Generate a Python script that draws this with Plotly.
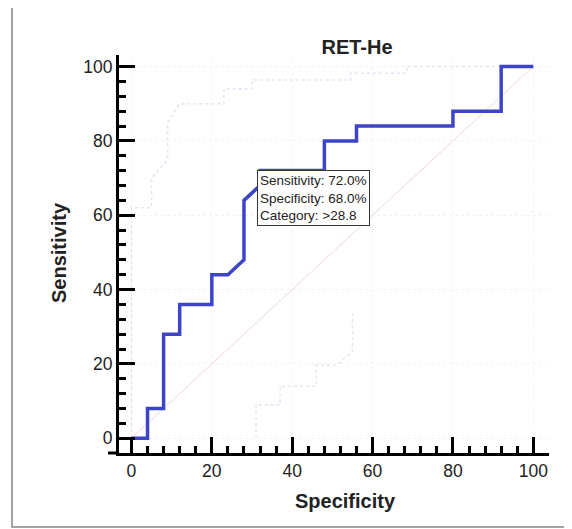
import plotly.graph_objects as go

# ROC curve (x as drawn on the Specificity axis, y = sensitivity)
roc_x = [0, 4, 4, 8, 8, 12, 12, 20, 20, 24, 28, 28, 32, 32, 48, 48, 56, 56, 80, 80, 92, 92, 100]
roc_y = [0, 0, 8, 8, 28, 28, 36, 36, 44, 44, 48, 64, 68, 72, 72, 80, 80, 84, 84, 88, 88, 100, 100]

# faint confidence bounds
upper_x = [0, 0, 5, 5, 9, 9, 12, 23, 23, 30, 30, 54.5, 54.5, 68.5, 68.5, 100]
upper_y = [0, 62, 62, 70, 75, 85, 90, 90, 94, 94, 96.4, 96.4, 98.2, 98.2, 100, 100]
lower_x = [31, 31, 37, 37, 46, 46, 51, 55, 55]
lower_y = [0, 9, 9, 14, 14, 19.7, 19.7, 23.3, 34]

diag_x = [0, 100]
diag_y = [0, 100]

tick_vals = [0, 20, 40, 60, 80, 100]
tick_text = ["0", "20", "40", "60", "80", "100"]

title_text = "RET-He"
x_title = "Specificity"
y_title = "Sensitivity"
note_lines = ["Sensitivity: 72.0%", "Specificity: 68.0%", "Category: >28.8"]
note_point = (31.3, 72.2)

FONT = "Liberation Sans, Arial, Helvetica, sans-serif"
OFF = 8  # page body margin
W, H = 572 - OFF, 529 - OFF

fig = go.Figure()
fig.add_trace(go.Scatter(x=diag_x, y=diag_y, mode="lines",
                         line=dict(color="#f4e6e6", width=1.2), hoverinfo="skip"))
fig.add_trace(go.Scatter(x=upper_x, y=upper_y, mode="lines",
                         line=dict(color="#e2e6f4", width=1.5, dash="dot"), hoverinfo="skip"))
fig.add_trace(go.Scatter(x=lower_x, y=lower_y, mode="lines",
                         line=dict(color="#e2e6f4", width=1.5, dash="dot"), hoverinfo="skip"))
fig.add_trace(go.Scatter(x=roc_x, y=roc_y, mode="lines",
                         line=dict(color="#3c44c8", width=3.5)))

axis_common = dict(
    showline=True, linecolor="black", linewidth=3, mirror=False,
    ticks="inside", ticklen=16, tickwidth=2.5, tickcolor="black",
    tickvals=tick_vals, ticktext=tick_text,
    tickfont=dict(family=FONT, size=17.5, color="#222"),
    minor=dict(ticks="inside", ticklen=7, tickwidth=2.5, tickcolor="black", dtick=4, tick0=0,
               showgrid=False),
    showgrid=True, gridcolor="#f2f2f2", gridwidth=1, griddash="dot",
    zeroline=False, fixedrange=True,
)

fig.update_xaxes(range=[-3.1, 103.9], **axis_common)
fig.update_yaxes(range=[-3.96, 103.1], **axis_common)

PL, PT, PW, PH = 119 - OFF, 55 - OFF, 430, 398
fig.update_layout(
    width=W, height=H,
    margin=dict(l=PL, r=W - PL - PW, t=PT, b=H - PT - PH),
    paper_bgcolor="white", plot_bgcolor="white",
    showlegend=False,
    title=dict(text="<b>" + title_text + "</b>", x=(357 - OFF) / W, xanchor="center",
               y=1 - (47 - OFF) / H, yanchor="middle", yref="container",
               font=dict(family=FONT, size=20, color="#222")),
    font=dict(family=FONT),
)

# axis titles
fig.add_annotation(text="<b>" + x_title + "</b>", xref="paper", yref="paper",
                   x=(345 - 119) / 430, y=-(501 - 453) / 398, xanchor="center", yanchor="middle",
                   showarrow=False, font=dict(family=FONT, size=20, color="#222"))
fig.add_annotation(text="<b>" + y_title + "</b>", xref="paper", yref="paper",
                   x=-(119 - 59) / 430, y=(453 - 253) / 398, xanchor="center", yanchor="middle",
                   textangle=-90, showarrow=False, font=dict(family=FONT, size=20, color="#222"))

# info box
fig.add_annotation(text="<br>".join(note_lines), x=note_point[0], y=note_point[1],
                   xref="x", yref="y", xanchor="left", yanchor="top", align="left",
                   showarrow=False, bgcolor="white", bordercolor="#333", borderwidth=1,
                   borderpad=2, font=dict(family=FONT, size=13.5, color="#222"))

# bottom axis extends a bit left of the y axis
fig.add_shape(type="line", xref="paper", yref="paper", x0=-11 / 430, x1=0, y0=0, y1=0,
              line=dict(color="black", width=3))

# outer frame
fig.add_shape(type="rect", xref="paper", yref="paper",
              x0=-(119 - 12) / 430, x1=(580 - 119) / 430,
              y0=-(527 - 453) / 398, y1=(453 - 3) / 398,
              line=dict(color="#a3a3a3", width=2), fillcolor="rgba(0,0,0,0)", layer="below")

fig.write_html("out.html")
